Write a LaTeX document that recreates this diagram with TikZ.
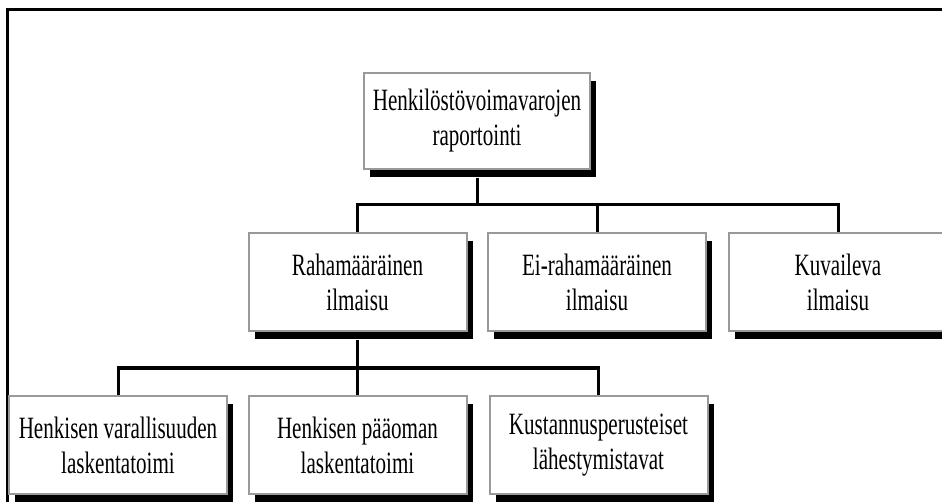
\documentclass[tikz,border=0pt]{standalone}
\usepackage{fontspec}
\usetikzlibrary{shadows}
\newfontfamily\boxfont[FakeStretch=0.68]{Liberation Serif}
\tikzset{
  x=1pt, y=-1pt,
  orgbox/.style={draw=black!40, line width=2pt, fill=white, align=center,
    inner sep=0pt, minimum width=218pt, minimum height=98pt,
    font=\boxfont\fontsize{31}{35}\selectfont,
    drop shadow={shadow xshift=6pt, shadow yshift=-8pt, fill=black, opacity=1}},
  conn/.style={line width=3pt, black},
  frame/.style={line width=3pt, black}
}
\begin{document}
\begin{tikzpicture}
\useasboundingbox (0,0) rectangle (942,502);
\clip (0,0) rectangle (942,502);
\fill[white] (0,0) rectangle (942,502);
\draw[frame] (7,520) -- (7,10) -- (960,10);
\node[orgbox, minimum width=226pt, minimum height=96pt] (root) at (477,121) {Henkilöstövoimavarojen\\raportointi};
\node[orgbox] (a1) at (357.5,282.5) {Rahamääräinen\\ilmaisu};
\node[orgbox] (a2) at (597,282.5) {Ei-rahamääräinen\\ilmaisu};
\node[orgbox] (a3) at (838,282.5) {Kuvaileva\\ilmaisu};
\node[orgbox] (c1) at (118,445) {Henkisen varallisuuden\\laskentatoimi};
\node[orgbox] (c2) at (357.5,445) {Henkisen pääoman\\laskentatoimi};
\node[orgbox] (c3) at (598.5,445) {Kustannusperusteiset\\lähestymistavat};
\coordinate (h1) at (477,205);
\coordinate (h2) at (357.5,368);
\draw[conn] (root.south) ++(0,8) -- (h1);
\draw[conn] (a1.north) |- (a3.north |- h1) -- (a3.north);
\draw[conn] (a2.north) -- (a2.north |- h1);
\draw[conn] (a1.south) ++(0,8) -- (h2);
\draw[conn] (c1.north) |- (c3.north |- h2) -- (c3.north);
\draw[conn] (c2.north) -- (c2.north |- h2);
\end{tikzpicture}
\end{document}
